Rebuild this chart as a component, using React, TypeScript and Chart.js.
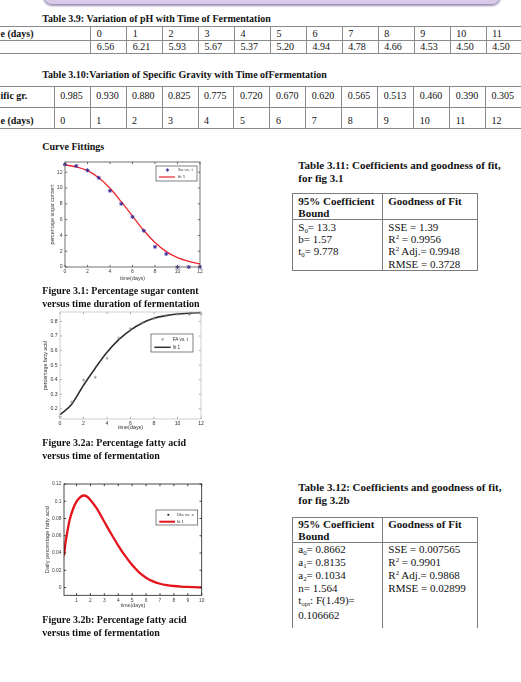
import React, { useEffect, useRef } from "react";
import { Chart, registerables } from "chart.js";

Chart.register(...registerables);

const SERIF = '"Liberation Serif", "Times New Roman", Times, serif';
const SANS = '"Liberation Sans", Arial, Helvetica, sans-serif';

// Table 3.9 – pH over the fermentation period (row labels run past the page edge)
const PH_ROW_LABEL = "e (days)";
const PH_DAYS = ["0", "1", "2", "3", "4", "5", "6", "7", "8", "9", "10", "11"];
const PH_VALUES = ["6.56", "6.21", "5.93", "5.67", "5.37", "5.20", "4.94", "4.78", "4.66", "4.53", "4.50", "4.50"];

// Table 3.10 – specific gravity over the fermentation period
const SG_ROW_LABEL = "ific gr.";
const SG_DAY_LABEL = "e (days)";
const SG_VALUES = ["0.985", "0.930", "0.880", "0.825", "0.775", "0.720", "0.670", "0.620", "0.565", "0.513", "0.460", "0.390", "0.305"];
const SG_DAYS = ["0", "1", "2", "3", "4", "5", "6", "7", "8", "9", "10", "11", "12"];

// Figure 3.1 – percentage sugar content
const SUGAR_T = [0, 1, 2, 3, 4, 5, 6, 7, 8, 9, 10, 11, 12];
const SUGAR_DATA = [13.0, 12.8, 12.25, 11.3, 9.65, 8.0, 6.35, 4.6, 2.55, 1.65, 0, 0, 0];
const SUGAR_FIT = [12.93, 12.68, 12.2, 11.3, 9.97, 8.27, 6.45, 4.62, 3.1, 1.95, 1.19, 0.72, 0.38];
const SUGAR_X_TICKS = [0, 2, 4, 6, 8, 10, 12];
const SUGAR_X_LABELS = ["0", "2", "4", "6", "8", "10", "12"];
const SUGAR_Y_TICKS = [0, 2, 4, 6, 8, 10, 12];
const SUGAR_Y_LABELS = ["0", "2", "4", "6", "8", "10", "12"];

// Figure 3.2a – percentage fatty acid
const FA_T = [0, 1, 2, 3, 4, 5, 6, 7, 8, 9, 10, 11, 12];
const FA_DATA = [0.145, 0.246, 0.397, 0.417, 0.547, 0.686, 0.75, 0.79, 0.822, 0.839, 0.849, 0.849, 0.851];
const FA_FIT = [0.159, 0.232, 0.362, 0.479, 0.588, 0.675, 0.741, 0.79, 0.822, 0.84, 0.851, 0.857, 0.861];
const FA_X_TICKS = [0, 2, 4, 6, 8, 10, 12];
const FA_X_LABELS = ["0", "2", "4", "6", "8", "10", "12"];
const FA_Y_TICKS = [0.2, 0.3, 0.4, 0.5, 0.6, 0.7, 0.8];
const FA_Y_LABELS = ["0.2", "0.3", "0.4", "0.5", "0.6", "0.7", "0.8"];

// Figure 3.2b – daily percentage fatty acid (fitted curve)
const DFA_PEAK_T = 1.49;
const DFA_PEAK = 0.106662;
const DFA_T = [0.1, 0.2, 0.3, 0.5, 0.75, 1, 1.25, DFA_PEAK_T, 1.75, 2, 2.5, 3, 3.5, 4, 4.5, 5, 5.5, 6, 6.5, 7, 7.5, 8, 8.5, 9, 9.5, 10];
const DFA_FIT = [0.037, 0.051, 0.061, 0.078, 0.091, 0.0995, 0.1045, DFA_PEAK, 0.1055, 0.1015, 0.0905, 0.0762, 0.062, 0.0487, 0.0366, 0.026, 0.0176, 0.0114, 0.0071, 0.0044, 0.0028, 0.0018, 0.0011, 0.0007, 0.0004, 0.0001];
const DFA_X_TICKS = [1, 2, 3, 4, 5, 6, 7, 8, 9, 10];
const DFA_X_LABELS = ["1", "2", "3", "4", "5", "6", "7", "8", "9", "10"];
const DFA_Y_TICKS = [0, 0.02, 0.04, 0.06, 0.08, 0.1, 0.12];
const DFA_Y_LABELS = ["0", "0.02", "0.04", "0.06", "0.08", "0.1", "0.12"];

// Coefficient tables
type Term = { base: string; sub?: string; sup?: string; rest: string };
const FIT31_COEFFS: Term[] = [
  { base: "S", sub: "0", rest: "= 13.3" },
  { base: "b", rest: "= 1.57" },
  { base: "t", sub: "0", rest: "= 9.778" },
];
const FIT31_GOODNESS: Term[] = [
  { base: "SSE", rest: " = 1.39" },
  { base: "R", sup: "2", rest: " = 0.9956" },
  { base: "R", sup: "2", rest: " Adj.= 0.9948" },
  { base: "RMSE", rest: " = 0.3728" },
];
const FIT32B_COEFFS: Term[] = [
  { base: "a", sub: "0", rest: "= 0.8662" },
  { base: "a", sub: "1", rest: "= 0.8135" },
  { base: "a", sub: "2", rest: "= 0.1034" },
  { base: "n", rest: "= 1.564" },
  { base: "t", sub: "opt", rest: `: F(${DFA_PEAK_T})=` },
  { base: String(DFA_PEAK), rest: "" },
];
const FIT32B_GOODNESS: Term[] = [
  { base: "SSE", rest: " = 0.007565" },
  { base: "R", sup: "2", rest: " = 0.9901" },
  { base: "R", sup: "2", rest: " Adj.= 0.9868" },
  { base: "RMSE", rest: " = 0.02899" },
];

/* ---------- page text helpers ---------- */

function Txt({ x, y, size = 10, bold = false, children }: any) {
  const lh = Math.round(size * 1.3);
  return (
    <div
      style={{
        position: "absolute",
        left: x,
        top: y - lh / 2,
        height: lh,
        lineHeight: lh + "px",
        fontSize: size,
        fontWeight: bold ? 700 : 400,
        fontFamily: SERIF,
        whiteSpace: "nowrap",
        color: "#111",
      }}
    >
      {children}
    </div>
  );
}

function TermText({ t }: { t: Term }) {
  return (
    <>
      {t.base}
      {t.sub && <span style={{ fontSize: "0.62em", verticalAlign: "-0.3em", lineHeight: 0 }}>{t.sub}</span>}
      {t.sup && <span style={{ fontSize: "0.62em", verticalAlign: "0.55em", lineHeight: 0 }}>{t.sup}</span>}
      {t.rest}
    </>
  );
}

const RULE = "#8a8a8a";

function HLine({ x, y, w, t = 1, c = RULE }: any) {
  return <div style={{ position: "absolute", left: x, top: y - t / 2, width: w, height: t, background: c }} />;
}
function VLine({ x, y, h, t = 1, c = RULE }: any) {
  return <div style={{ position: "absolute", left: x - t / 2, top: y, width: t, height: h, background: c }} />;
}

function Banner() {
  return (
    <div
      style={{
        position: "absolute",
        left: 43,
        top: -24,
        width: 456,
        height: 27,
        borderRadius: 9,
        background: "linear-gradient(180deg, #ece4f4 0%, #d7c9e7 100%)",
        border: "1px solid #a292be",
        boxShadow: "0 1px 2px rgba(90,70,125,0.6)",
      }}
    />
  );
}

function PhTable() {
  const rows = [26.7, 40, 53.3];
  const cols = PH_DAYS.map((_, i) => 90.7 + i * 35.95);
  return (
    <>
      {rows.map((y) => (
        <HLine key={y} x={0} y={y} w={521} />
      ))}
      {cols.map((x) => (
        <VLine key={x} x={x} y={26.7} h={26.6} />
      ))}
      <Txt x={0.5} y={33.4} bold>
        {PH_ROW_LABEL}
      </Txt>
      {PH_DAYS.map((d, i) => (
        <Txt key={"d" + i} x={cols[i] + 6} y={33.4}>
          {d}
        </Txt>
      ))}
      {PH_VALUES.map((v, i) => (
        <Txt key={"v" + i} x={cols[i] + 6} y={46.8}>
          {v}
        </Txt>
      ))}
    </>
  );
}

function SgTable() {
  const rows = [86.7, 107.3, 128.3];
  const cols = SG_VALUES.map((_, i) => 54.2 + i * 35.95);
  return (
    <>
      {rows.map((y) => (
        <HLine key={y} x={0} y={y} w={521} />
      ))}
      {cols.map((x) => (
        <VLine key={x} x={x} y={86.7} h={41.6} />
      ))}
      <Txt x={0.5} y={95} bold>
        {SG_ROW_LABEL}
      </Txt>
      <Txt x={0.5} y={120} bold>
        {SG_DAY_LABEL}
      </Txt>
      {SG_VALUES.map((v, i) => (
        <Txt key={"v" + i} x={cols[i] + 6} y={95}>
          {v}
        </Txt>
      ))}
      {SG_DAYS.map((d, i) => (
        <Txt key={"d" + i} x={cols[i] + 6} y={120}>
          {d}
        </Txt>
      ))}
    </>
  );
}

function CoeffTable({ top, headY, sepY, bottom, closed, coeffs, goodness, coeffY, goodY }: any) {
  const left = 292.3;
  const right = 477.7;
  const mid = 382.7;
  return (
    <>
      <HLine x={left} y={top} w={right - left} c="#7c7c7c" />
      <HLine x={left} y={sepY} w={right - left} t={1.4} c="#7c7c7c" />
      {closed && <HLine x={left} y={bottom} w={right - left} c="#7c7c7c" />}
      <VLine x={left} y={top} h={bottom - top} c="#7c7c7c" />
      <VLine x={mid} y={top} h={bottom - top} c="#7c7c7c" />
      <VLine x={right} y={top} h={bottom - top} c="#7c7c7c" />
      <Txt x={298.3} y={headY[0]} size={11} bold>
        95% Coefficient
      </Txt>
      <Txt x={298.3} y={headY[1]} size={11} bold>
        Bound
      </Txt>
      <Txt x={388.3} y={headY[0]} size={11} bold>
        Goodness of Fit
      </Txt>
      {coeffs.map((t: Term, i: number) => (
        <Txt key={"c" + i} x={298.3} y={coeffY[i]} size={11}>
          <TermText t={t} />
        </Txt>
      ))}
      {goodness.map((t: Term, i: number) => (
        <Txt key={"g" + i} x={388.3} y={goodY[i]} size={11}>
          <TermText t={t} />
        </Txt>
      ))}
    </>
  );
}

/* ---------- chart helpers ---------- */

type AxisSpec = {
  min: number;
  max: number;
  ticks: number[];
  labels: string[];
  title: string;
  titleCenter: number;
  titleSize: number;
  tickSize: number;
  tickPad: number;
};
type LegendItem = { label: string; kind: "line" | "dot" | "star" | "cross"; color: string; width?: number };
type LegendSpec = {
  items: LegendItem[];
  right: number;
  top: number;
  width: number;
  height: number;
  rows: number[];
  lineFrom: number;
  lineTo: number;
  markX: number;
  textX: number;
  size: number;
};
type PlotSpec = {
  canvas: { left: number; top: number; width: number; height: number };
  area: { left: number; top: number; right: number; bottom: number };
  x: AxisSpec;
  y: AxisSpec;
  frame: string;
  tickMark: string;
  text: string;
  datasets: any[];
  legend: LegendSpec;
};

function framePlugin(spec: PlotSpec) {
  return {
    id: "frameBox",
    afterDatasetsDraw(chart: any) {
      const { ctx, chartArea: a, scales } = chart;
      const len = 2.2;
      ctx.save();
      ctx.lineWidth = 0.8;
      ctx.strokeStyle = spec.tickMark;
      ctx.beginPath();
      for (const t of scales.x.ticks) {
        const px = scales.x.getPixelForValue(t.value);
        ctx.moveTo(px, a.bottom);
        ctx.lineTo(px, a.bottom - len);
        ctx.moveTo(px, a.top);
        ctx.lineTo(px, a.top + len);
      }
      for (const t of scales.y.ticks) {
        const py = scales.y.getPixelForValue(t.value);
        ctx.moveTo(a.left, py);
        ctx.lineTo(a.left + len, py);
        ctx.moveTo(a.right, py);
        ctx.lineTo(a.right - len, py);
      }
      ctx.stroke();
      ctx.strokeStyle = spec.frame;
      ctx.strokeRect(a.left, a.top, a.right - a.left, a.bottom - a.top);
      ctx.restore();
    },
  };
}

function legendPlugin(spec: PlotSpec) {
  const L = spec.legend;
  return {
    id: "boxLegend",
    afterDraw(chart: any) {
      const { ctx, chartArea: a } = chart;
      const x0 = a.right - L.right - L.width;
      const y0 = a.top + L.top;
      ctx.save();
      ctx.fillStyle = "#fff";
      ctx.fillRect(x0, y0, L.width, L.height);
      ctx.strokeStyle = "#4a4a4a";
      ctx.lineWidth = 0.7;
      ctx.strokeRect(x0, y0, L.width, L.height);
      L.items.forEach((it, i) => {
        const cy = y0 + L.rows[i];
        const mx = x0 + L.markX;
        ctx.strokeStyle = it.color;
        ctx.fillStyle = it.color;
        if (it.kind === "line") {
          ctx.lineWidth = it.width || 1;
          ctx.beginPath();
          ctx.moveTo(x0 + L.lineFrom, cy);
          ctx.lineTo(x0 + L.lineTo, cy);
          ctx.stroke();
        } else if (it.kind === "dot") {
          ctx.beginPath();
          ctx.arc(mx, cy, 1, 0, Math.PI * 2);
          ctx.fill();
        } else if (it.kind === "star") {
          ctx.lineWidth = 0.9;
          ctx.beginPath();
          for (let k = 0; k < 4; k++) {
            const ang = (k * Math.PI) / 4;
            ctx.moveTo(mx - 1.6 * Math.cos(ang), cy - 1.6 * Math.sin(ang));
            ctx.lineTo(mx + 1.6 * Math.cos(ang), cy + 1.6 * Math.sin(ang));
          }
          ctx.stroke();
        } else {
          ctx.lineWidth = 0.7;
          ctx.beginPath();
          ctx.moveTo(mx - 1.4, cy);
          ctx.lineTo(mx + 1.4, cy);
          ctx.moveTo(mx, cy - 1.4);
          ctx.lineTo(mx, cy + 1.4);
          ctx.stroke();
        }
        ctx.fillStyle = "#333";
        ctx.font = `${L.size}px ${SANS}`;
        ctx.textBaseline = "middle";
        ctx.textAlign = "left";
        ctx.fillText(it.label, x0 + L.textX, cy);
      });
      ctx.restore();
    },
  };
}

function axisOptions(spec: PlotSpec, which: "x" | "y") {
  const ax = which === "x" ? spec.x : spec.y;
  const c = spec.canvas;
  const lh = ax.titleSize * 1.2;
  const titlePad =
    which === "x"
      ? { top: 0, bottom: c.top + c.height - ax.titleCenter - lh / 2 }
      : { top: ax.titleCenter - c.left - lh / 2, bottom: 0 };
  return {
    type: "linear",
    position: which === "x" ? "bottom" : "left",
    min: ax.min,
    max: ax.max,
    afterBuildTicks: (s: any) => {
      s.ticks = ax.ticks.map((v) => ({ value: v }));
    },
    afterFit: (s: any) => {
      if (which === "x") s.height = c.top + c.height - spec.area.bottom;
      else s.width = spec.area.left - c.left;
    },
    grid: { display: false, drawTicks: false },
    border: { display: false },
    ticks: {
      autoSkip: false,
      maxRotation: 0,
      padding: ax.tickPad,
      color: spec.text,
      font: { family: SANS, size: ax.tickSize, lineHeight: 1.2 },
      callback: (v: number) => {
        const i = ax.ticks.findIndex((t) => Math.abs(t - v) < 1e-9);
        return i >= 0 ? ax.labels[i] : "";
      },
    },
    title: {
      display: true,
      text: ax.title,
      color: spec.text,
      font: { family: SANS, size: ax.titleSize, lineHeight: 1.2 },
      padding: titlePad,
    },
  };
}

function FitPlot({ spec }: { spec: PlotSpec }) {
  const ref = useRef<HTMLCanvasElement>(null);
  useEffect(() => {
    const c = spec.canvas;
    const chart = new Chart(ref.current as HTMLCanvasElement, {
      type: "scatter",
      data: { datasets: spec.datasets },
      options: {
        animation: false,
        responsive: false,
        devicePixelRatio: 1,
        events: [],
        layout: {
          padding: {
            left: 0,
            top: spec.area.top - c.top,
            right: c.left + c.width - spec.area.right,
            bottom: 0,
          },
        },
        plugins: { legend: { display: false }, tooltip: { enabled: false } },
        scales: { x: axisOptions(spec, "x"), y: axisOptions(spec, "y") } as any,
      },
      plugins: [framePlugin(spec), legendPlugin(spec)],
    } as any);
    return () => chart.destroy();
  }, [spec]);
  const c = spec.canvas;
  return (
    <div style={{ position: "absolute", left: c.left, top: c.top, width: c.width, height: c.height }}>
      <canvas ref={ref} width={c.width} height={c.height} style={{ display: "block", width: c.width, height: c.height }} />
    </div>
  );
}

const pts = (xs: number[], ys: number[]) => xs.map((x, i) => ({ x, y: ys[i] }));

const SUGAR_PLOT: PlotSpec = {
  canvas: { left: 36, top: 154, width: 174, height: 131 },
  area: { left: 65, top: 162, right: 200, bottom: 267 },
  x: { min: 0, max: 12, ticks: SUGAR_X_TICKS, labels: SUGAR_X_LABELS, title: "time(days)", titleCenter: 278.5, titleSize: 5.4, tickSize: 5.1, tickPad: 2 },
  y: { min: 0, max: 13.3, ticks: SUGAR_Y_TICKS, labels: SUGAR_Y_LABELS, title: "percentage sugar content", titleCenter: 53, titleSize: 5.3, tickSize: 5.1, tickPad: 2.5 },
  frame: "#505050",
  tickMark: "#505050",
  text: "#3c3c3c",
  datasets: [
    {
      label: "Su vs. t",
      data: pts(SUGAR_T, SUGAR_DATA),
      pointStyle: "star",
      pointRadius: 2,
      pointBorderWidth: 1,
      pointBorderColor: "#3a2c9c",
      pointBackgroundColor: "#3a2c9c",
      clip: 4,
    },
    {
      label: "fit 1",
      data: pts(SUGAR_T, SUGAR_FIT),
      showLine: true,
      borderColor: "#e8262c",
      borderWidth: 1.3,
      pointRadius: 0,
      cubicInterpolationMode: "monotone",
      clip: 2,
    },
  ],
  legend: {
    items: [
      { label: "Su vs. t", kind: "star", color: "#3a2c9c" },
      { label: "fit 1", kind: "line", color: "#e8262c", width: 1.2 },
    ],
    right: 3,
    top: 4,
    width: 41,
    height: 15,
    rows: [4, 11],
    lineFrom: 3,
    lineTo: 19,
    markX: 11.5,
    textX: 22,
    size: 4.4,
  },
};

const FA_PLOT: PlotSpec = {
  canvas: { left: 34, top: 304, width: 176, height: 132 },
  area: { left: 60, top: 312, right: 201, bottom: 419 },
  x: { min: 0, max: 12, ticks: FA_X_TICKS, labels: FA_X_LABELS, title: "time(days)", titleCenter: 428, titleSize: 5.4, tickSize: 5.1, tickPad: 2 },
  y: { min: 0.13, max: 0.865, ticks: FA_Y_TICKS, labels: FA_Y_LABELS, title: "percentage fatty acid", titleCenter: 46, titleSize: 5.3, tickSize: 5.1, tickPad: 2.5 },
  frame: "#c4c4c4",
  tickMark: "#9a9a9a",
  text: "#2e2e2e",
  datasets: [
    {
      label: "FA vs. t",
      data: pts(FA_T, FA_DATA),
      pointStyle: "cross",
      pointRadius: 1.6,
      pointBorderWidth: 0.7,
      pointBorderColor: "#858585",
      clip: 4,
    },
    {
      label: "fit 1",
      data: pts(FA_T, FA_FIT),
      showLine: true,
      borderColor: "#303030",
      borderWidth: 1.6,
      pointRadius: 0,
      cubicInterpolationMode: "monotone",
      clip: 2,
    },
  ],
  legend: {
    items: [
      { label: "FA vs. t", kind: "cross", color: "#858585" },
      { label: "fit 1", kind: "line", color: "#303030", width: 1.5 },
    ],
    right: 8,
    top: 22,
    width: 42,
    height: 18,
    rows: [5.3, 13.3],
    lineFrom: 3.3,
    lineTo: 19.7,
    markX: 11.7,
    textX: 21.7,
    size: 4.6,
  },
};

const DFA_PLOT: PlotSpec = {
  canvas: { left: 36, top: 476, width: 174, height: 136 },
  area: { left: 64, top: 484, right: 201.7, bottom: 595.3 },
  x: { min: 0.1, max: 10, ticks: DFA_X_TICKS, labels: DFA_X_LABELS, title: "time(days)", titleCenter: 605.7, titleSize: 5.3, tickSize: 4.9, tickPad: 2 },
  y: { min: -0.009, max: 0.12, ticks: DFA_Y_TICKS, labels: DFA_Y_LABELS, title: "Daily percentage fatty acid", titleCenter: 47.3, titleSize: 5.7, tickSize: 4.9, tickPad: 2.5 },
  frame: "#1c1c1c",
  tickMark: "#1c1c1c",
  text: "#3c3c3c",
  datasets: [
    {
      label: "fit 1",
      data: pts(DFA_T, DFA_FIT),
      showLine: true,
      borderColor: "#e3141b",
      borderWidth: 2.3,
      pointRadius: 0,
      cubicInterpolationMode: "monotone",
    },
  ],
  legend: {
    items: [
      { label: "Dfa vs. x", kind: "dot", color: "#111" },
      { label: "fit 1", kind: "line", color: "#e3141b", width: 2 },
    ],
    right: 4,
    top: 26,
    width: 41.7,
    height: 15,
    rows: [4.7, 11.7],
    lineFrom: 3.3,
    lineTo: 19,
    markX: 12.3,
    textX: 21,
    size: 4.3,
  },
};

export default function App() {
  return (
    <div
      style={{
        position: "fixed",
        left: 0,
        top: 0,
        width: 521,
        height: 682,
        overflow: "hidden",
        background: "#fff",
        fontFamily: SERIF,
      }}
    >
      <Banner />

      <Txt x={42.3} y={18.3} bold>
        Table 3.9: Variation of pH with Time of Fermentation
      </Txt>
      <PhTable />

      <Txt x={42.3} y={74} bold>
        Table 3.10:Variation of Specific Gravity with Time ofFermentation
      </Txt>
      <SgTable />

      <Txt x={42.3} y={146} bold>
        Curve Fittings
      </Txt>

      <FitPlot spec={SUGAR_PLOT} />
      <Txt x={42.3} y={290.7} bold>
        Figure 3.1: Percentage sugar content
      </Txt>
      <Txt x={42.3} y={303.5} bold>
        versus time duration of fermentation
      </Txt>

      <FitPlot spec={FA_PLOT} />
      <Txt x={42.3} y={442.3} bold>
        Figure 3.2a: Percentage fatty acid
      </Txt>
      <Txt x={42.3} y={455.3} bold>
        versus time of fermentation
      </Txt>

      <FitPlot spec={DFA_PLOT} />
      <Txt x={42.3} y={619} bold>
        Figure 3.2b: Percentage fatty acid
      </Txt>
      <Txt x={42.3} y={632.3} bold>
        versus time of fermentation
      </Txt>

      <Txt x={298.3} y={165} size={11} bold>
        Table 3.11: Coefficients and goodness of fit,
      </Txt>
      <Txt x={298.3} y={178.3} size={11} bold>
        for fig 3.1
      </Txt>
      <CoeffTable
        top={193.3}
        sepY={219.3}
        bottom={270.7}
        closed
        headY={[200.7, 212.7]}
        coeffs={FIT31_COEFFS}
        goodness={FIT31_GOODNESS}
        coeffY={[226.7, 239, 251.3]}
        goodY={[226.7, 239, 251.3, 264]}
      />

      <Txt x={298.3} y={486.7} size={11} bold>
        Table 3.12: Coefficients and goodness of fit,
      </Txt>
      <Txt x={298.3} y={500} size={11} bold>
        for fig 3.2b
      </Txt>
      <CoeffTable
        top={517.3}
        sepY={542.7}
        bottom={628.3}
        closed={false}
        headY={[524, 536]}
        coeffs={FIT32B_COEFFS}
        goodness={FIT32B_GOODNESS}
        coeffY={[549.3, 562.2, 575, 587.7, 600.3, 614.7]}
        goodY={[549.3, 562.2, 575, 587.7]}
      />
    </div>
  );
}
